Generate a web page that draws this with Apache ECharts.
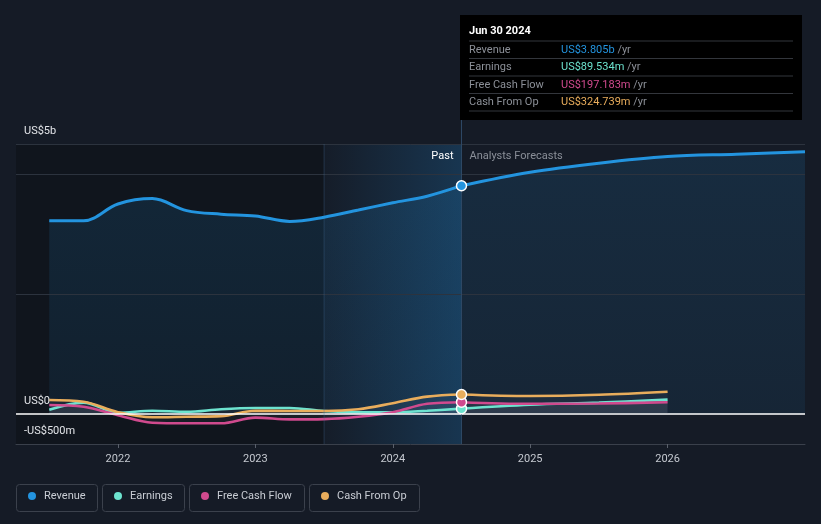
<!DOCTYPE html>
<html><head><meta charset="utf-8">
<script src="https://cdn.jsdelivr.net/npm/echarts@6/dist/echarts.min.js"></script>
<style>html,body{margin:0;padding:0;background:#151b26;}#c{width:821px;height:524px;}</style>
</head><body><div id="c"></div>
<script>
// ---- data (values in US$ billions, x in decimal years) ----
const pastX      = [2021.5, 2021.75, 2022.0, 2022.25, 2022.5, 2022.75, 2023.0, 2023.25, 2023.5, 2023.75, 2024.0, 2024.25, 2024.5];
const revenuePast  = [3.22, 3.22, 3.50, 3.59, 3.39, 3.33, 3.30, 3.21, 3.28, 3.40, 3.52, 3.63, 3.805];
const earningsPast = [0.07, 0.19, 0.02, 0.055, 0.035, 0.08, 0.10, 0.10, 0.05, 0.03, 0.03, 0.055, 0.0895];
const fcfPast      = [0.15, 0.12, -0.02, -0.145, -0.155, -0.155, -0.06, -0.09, -0.085, -0.045, 0.03, 0.17, 0.197];
const cfoPast      = [0.233, 0.205, 0.03, -0.055, -0.045, -0.035, 0.055, 0.05, 0.05, 0.08, 0.18, 0.29, 0.325];

const revenueFcX = [2024.5, 2025.0, 2025.5, 2026.0, 2026.5, 2027.0];
const revenueFc  = [3.805, 4.03, 4.18, 4.29, 4.33, 4.37];
const otherFcX   = [2024.5, 2025.0, 2025.5, 2026.0];
const earningsFc = [0.0895, 0.155, 0.19, 0.24];
const fcfFc      = [0.197, 0.17, 0.175, 0.195];
const cfoFc      = [0.325, 0.30, 0.32, 0.37];

const xTickValues = [2022, 2023, 2024, 2025, 2026];
const yLabelValues = [4.5, 0, -0.5];
const yLabelTexts  = ['US$5b', 'US$0', '-US$500m'];
const gridValues   = [4.5, 4, 2];

const seriesNames = ['Revenue', 'Earnings', 'Free Cash Flow', 'Cash From Op'];
const colors = ['#2394df', '#6de3cf', '#d04a8e', '#e9ad5c'];
const tipDate = 'Jun 30 2024';
const tipValues = ['US$3.805b', 'US$89.534m', 'US$197.183m', 'US$324.739m'];

const X_MIN = 2021.258, X_MAX = 2027.0, NOW = 2024.5, BAND_START = 2023.5;
const FONT = '11px Roboto';

// ---- build ----
const pair = (xs, ys) => xs.map((x, i) => [x, ys[i]]);
const withDot = (xs, ys, color) => xs.map((x, i) => i === 0 ? {
  value: [x, ys[i]], symbol: 'circle', symbolSize: 10,
  itemStyle: {color: color, borderColor: '#ffffff', borderWidth: 1.5}
} : [x, ys[i]]);

const pastSets = [revenuePast, earningsPast, fcfPast, cfoPast];
const fcSets = [[revenueFcX, revenueFc], [otherFcX, earningsFc], [otherFcX, fcfFc], [otherFcX, cfoFc]];

const series = [];
series.push({
  type: 'line', data: [], silent: true, z: 0,
  markArea: {silent: true, data: [[{xAxis: X_MIN, itemStyle: {color: 'rgba(0,0,0,0.22)'}}, {xAxis: BAND_START}]]},
  markLine: {
    silent: true, symbol: 'none', label: {show: false},
    lineStyle: {color: '#2c333e', width: 1, type: 'solid'},
    data: gridValues.map(v => ({yAxis: v}))
  }
});
series.push({
  type: 'line', data: [], silent: true, z: 5,
  markArea: {silent: true, data: [[{xAxis: BAND_START, itemStyle: {color: {type: 'linear', x: 0, y: 0, x2: 1, y2: 0,
    colorStops: [{offset: 0, color: 'rgba(30,110,170,0.02)'}, {offset: 1, color: 'rgba(30,110,170,0.32)'}]}}}, {xAxis: NOW}]]}
});
seriesNames.forEach((name, k) => {
  const isRev = k === 0;
  const area = isRev
    ? {color: {type: 'linear', x: 0, y: 0, x2: 0, y2: 1, colorStops: [{offset: 0, color: 'rgba(35,148,223,0.20)'}, {offset: 1, color: 'rgba(35,148,223,0.12)'}]}}
    : {color: 'rgba(190,190,200,0.08)'};
  const sets = [[pastX, pastSets[k], false], [fcSets[k][0], fcSets[k][1], true]];
  sets.forEach(([xs, ys, isFc]) => {
    const data = isFc ? withDot(xs, ys, colors[k]) : pair(xs, ys);
    if (isRev) {
      series.push({name, type: 'line', smooth: 0.35, symbol: 'none', z: 3, data: pair(xs, ys),
        lineStyle: {width: 0, opacity: 0}, itemStyle: {color: colors[k]}, areaStyle: area, silent: true});
      series.push({name, type: 'line', smooth: 0.35, symbol: 'none', z: 7, data,
        lineStyle: {color: colors[k], width: 3}, itemStyle: {color: colors[k]}, silent: true});
    } else {
      series.push({name, type: 'line', smooth: 0.35, symbol: 'none', z: isFc ? 6 : 4, data,
        lineStyle: {color: colors[k], width: 2.6}, itemStyle: {color: colors[k]}, areaStyle: area, silent: true});
    }
  });
});
series.push({
  type: 'line', data: [], silent: true, z: 6,
  markLine: {silent: true, symbol: 'none', label: {show: false},
    lineStyle: {color: '#ffffff', width: 1.5, type: 'solid'}, data: [{yAxis: 0}]}
});

const legendLefts = [28, 114, 201, 321];
const legends = seriesNames.map((n, i) => ({
  data: [{name: n, itemStyle: {color: colors[i]}}],
  left: legendLefts[i], top: 489, padding: 0, itemWidth: 8, itemHeight: 8, icon: 'circle',
  textStyle: {color: '#c9cdd4', fontSize: 11, fontFamily: 'Roboto', padding: [0, 0, 0, 3], lineHeight: 14},
  inactiveColor: '#555', selectedMode: true
}));

const chart = echarts.init(document.getElementById('c'));
chart.setOption({
  backgroundColor: '#151b26',
  animation: false,
  textStyle: {fontFamily: 'Roboto'},
  grid: {left: 16, right: 16, top: 144, bottom: 80, containLabel: false},
  legend: legends,
  xAxis: {
    type: 'value', min: X_MIN, max: X_MAX,
    axisLine: {show: true, onZero: false, lineStyle: {color: '#3a404b', width: 1}},
    axisTick: {show: true, customValues: xTickValues, length: 4, lineStyle: {color: '#5a606b'}},
    axisLabel: {customValues: xTickValues, color: '#c5c9d0', fontSize: 11, margin: 10, formatter: v => String(Math.round(v))},
    splitLine: {show: false}
  },
  yAxis: {
    type: 'value', min: -0.5, max: 4.5,
    axisLine: {show: false}, axisTick: {show: false}, axisLabel: {show: false}, splitLine: {show: false}
  },
  series
});

// ---- overlay text positioned through the chart's own scales ----
const px = (x, y) => chart.convertToPixel({gridIndex: 0}, [x, y]);
const nowPx = px(NOW, 4.5);
const bandPx = px(BAND_START, -0.5);
const bottomPx = px(NOW, -0.5);
const g = [];
yLabelValues.forEach((v, i) => {
  const p = px(X_MIN, v);
  g.push({type: 'text', x: p[0] + 8, y: p[1] - 12.5, z: 20,
    style: {text: yLabelTexts[i], fill: '#e2e4e8', font: FONT, verticalAlign: 'middle'}});
});
g.push({type: 'line', z: 5, shape: {x1: nowPx[0], y1: 119, x2: nowPx[0], y2: bottomPx[1]}, style: {stroke: '#2f4a66', lineWidth: 1}});
g.push({type: 'line', z: 5, shape: {x1: bandPx[0], y1: nowPx[1], x2: bandPx[0], y2: bandPx[1]}, style: {stroke: 'rgba(70,110,150,0.35)', lineWidth: 1}});
g.push({type: 'text', z: 20, x: nowPx[0] - 8, y: nowPx[1] + 12, style: {text: 'Past', fill: '#ffffff', font: FONT, align: 'right', verticalAlign: 'middle'}});
g.push({type: 'text', z: 20, x: nowPx[0] + 8, y: nowPx[1] + 12, style: {text: 'Analysts Forecasts', fill: '#8a8f98', font: FONT, align: 'left', verticalAlign: 'middle'}});
g.push({type: 'rect', z: 30, shape: {x: 460, y: 15, width: 342, height: 105}, style: {fill: '#000000'}});
g.push({type: 'text', z: 31, x: 469, y: 31, style: {text: tipDate, fill: '#ffffff', font: 'bold 11px Roboto', verticalAlign: 'middle'}});
const sepY = [41, 58.5, 76, 93.5, 111];
sepY.forEach(y => g.push({type: 'line', z: 31, shape: {x1: 469, y1: y, x2: 793, y2: y}, style: {stroke: '#33363c', lineWidth: 1}}));
seriesNames.forEach((n, i) => {
  const cy = (sepY[i] + sepY[i + 1]) / 2;
  g.push({type: 'text', z: 31, x: 469, y: cy, style: {text: n, fill: '#8c9098', font: FONT, verticalAlign: 'middle'}});
  g.push({type: 'text', z: 31, x: 561, y: cy, style: {
    text: '{v|' + tipValues[i] + '}{u| /yr}', verticalAlign: 'middle',
    rich: {v: {fill: colors[i], font: FONT}, u: {fill: '#8c9098', font: FONT}}}});
});
const boxes = [[16.5, 81], [102.5, 82], [189.5, 115], [309.5, 110]];
boxes.forEach(b => g.push({type: 'rect', z: -1, shape: {x: b[0], y: 484.5, width: b[1], height: 27, r: 3}, style: {fill: 'none', stroke: '#3b414c', lineWidth: 1}}));
chart.setOption({graphic: g});
</script>
</body></html>
